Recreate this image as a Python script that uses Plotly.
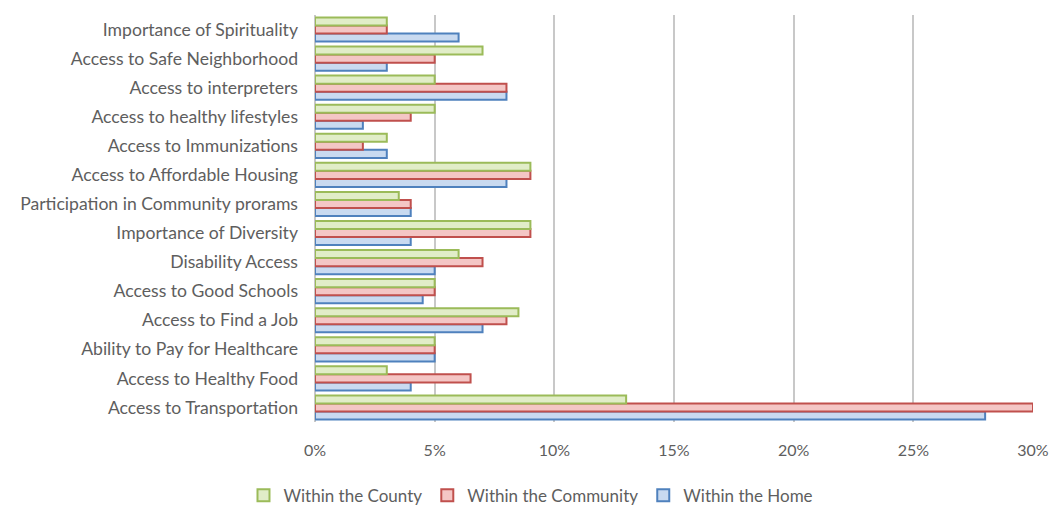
import plotly.graph_objects as go

categories = [
    "Access to Transportation",
    "Access to Healthy Food",
    "Ability to Pay for Healthcare",
    "Access to Find a Job",
    "Access to Good Schools",
    "Disability Access",
    "Importance of Diversity",
    "Participation in Community prorams",
    "Access to Affordable Housing",
    "Access to Immunizations",
    "Access to healthy lifestyles",
    "Access to interpreters",
    "Access to Safe Neighborhood",
    "Importance of Spirituality",
]

within_home = [28, 4, 5, 7, 4.5, 5, 4, 4, 8, 3, 2, 8, 3, 6]
within_community = [30, 6.5, 5, 8, 5, 7, 9, 4, 9, 2, 4, 8, 5, 3]
within_county = [13, 3, 5, 8.5, 5, 6, 9, 3.5, 9, 3, 5, 5, 7, 3]

tick_vals = [0, 5, 10, 15, 20, 25, 30]
tick_text = ["0%", "5%", "10%", "15%", "20%", "25%", "30%"]

fig = go.Figure()
fig.add_trace(go.Bar(
    y=categories, x=within_home, orientation="h", name="Within the Home",
    marker=dict(color="#c9daf0", line=dict(color="#4f81bd", width=2)),
))
fig.add_trace(go.Bar(
    y=categories, x=within_community, orientation="h", name="Within the Community",
    marker=dict(color="#f4c6c5", line=dict(color="#c0504d", width=2)),
))
fig.add_trace(go.Bar(
    y=categories, x=within_county, orientation="h", name="Within the County",
    marker=dict(color="#e1edc8", line=dict(color="#9bbb59", width=2)),
))

fig.update_layout(
    width=1063, height=508,
    margin=dict(l=307, r=38, t=7, b=94),
    barmode="group", bargap=0.17, bargroupgap=0,
    plot_bgcolor="white", paper_bgcolor="white",
    font=dict(family="Lato", size=17.6, color="#5e5e5e"),
    showlegend=True,
    legend=dict(orientation="h", traceorder="reversed", xref="container", x=0.492,
                xanchor="center", yref="container", y=0.04, yanchor="middle",
                itemwidth=30, font=dict(size=17, color="#5e5e5e")),
    xaxis=dict(range=[0, 30], tickvals=tick_vals, ticktext=tick_text,
               showgrid=True, gridcolor="#c8c8c8", gridwidth=1.5,
               zeroline=True, zerolinecolor="#c8c8c8", zerolinewidth=1.5,
               ticks="outside", ticklen=14, tickcolor="rgba(0,0,0,0)",
               tickfont=dict(size=16), fixedrange=True),
    yaxis=dict(showgrid=False, ticks="", ticklabelstandoff=16, automargin=False),
)

fig.write_html("out.html")
